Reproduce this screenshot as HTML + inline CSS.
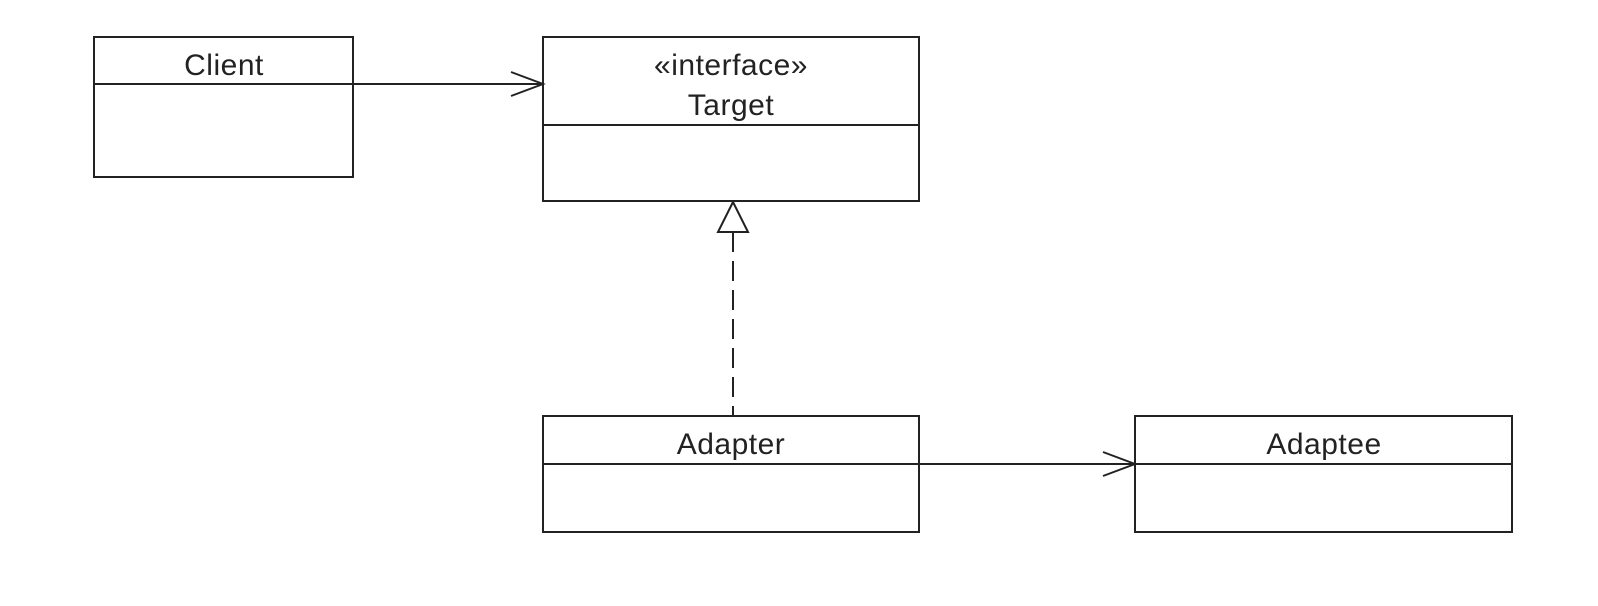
<!DOCTYPE html>
<html><head><meta charset="utf-8"><style>
html,body{margin:0;padding:0;background:#fff;}
svg{display:block;}
text{font-family:"Liberation Sans",sans-serif;font-size:30px;fill:#222;text-anchor:middle;letter-spacing:0.5px;}
</style></head><body>
<svg width="1598" height="606" viewBox="0 0 1598 606" xmlns="http://www.w3.org/2000/svg">
<g fill="none" stroke="#222" stroke-width="2">
<rect x="94" y="37" width="259" height="140"/>
<line x1="94" y1="84" x2="353" y2="84"/>
<rect x="543" y="37" width="376" height="164"/>
<line x1="543" y1="125" x2="919" y2="125"/>
<rect x="543" y="416" width="376" height="116"/>
<line x1="543" y1="464" x2="919" y2="464"/>
<rect x="1135" y="416" width="377" height="116"/>
<line x1="1135" y1="464" x2="1512" y2="464"/>
<line x1="353" y1="84" x2="543" y2="84"/>
<polyline points="511,72 543,84 511,96"/>
<line x1="919" y1="464" x2="1135" y2="464"/>
<polyline points="1103,452 1135,464 1103,476"/>
<line x1="733" y1="232" x2="733" y2="416" stroke-dasharray="20,9"/>
<polygon points="733,202 718,232 748,232"/>
</g>
<text x="224" y="75">Client</text>
<text x="731" y="75">«interface»</text>
<text x="731" y="115">Target</text>
<text x="731" y="454">Adapter</text>
<text x="1324" y="454">Adaptee</text>
</svg>
</body></html>
